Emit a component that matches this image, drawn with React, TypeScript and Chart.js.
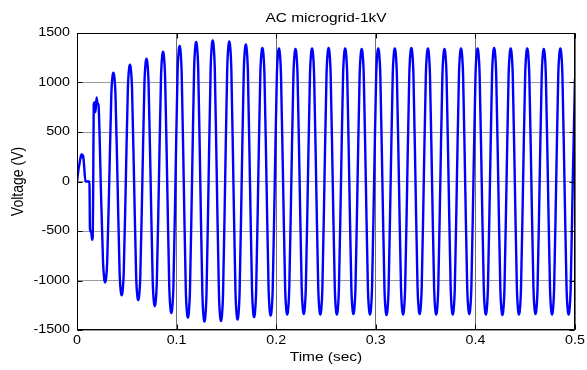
import React, { useEffect, useRef } from 'react';
import { Chart, registerables } from 'chart.js';

Chart.register(...registerables);

// ---- text ----
const TITLE = 'AC microgrid-1kV';
const X_LABEL = 'Time (sec)';
const Y_LABEL = 'Voltage (V)';

// ---- axes ----
const X_MIN = 0;
const X_MAX = 0.5;
const X_STEP = 0.1;
const Y_MIN = -1500;
const Y_MAX = 1500;
const Y_STEP = 500;

// ---- start-up transient ----
const EARLY_TIME = [0, 0.0012, 0.0025, 0.0038, 0.0048, 0.0056, 0.0062, 0.0072, 0.0085, 0.0125, 0.013, 0.0142, 0.0152, 0.0158, 0.0163, 0.0168, 0.0178, 0.0186, 0.0196, 0.0206, 0.0216, 0.0228, 0.0238];
const EARLY_VOLT = [0, 100, 180, 255, 275, 240, 265, 150, 0, 0, -480, -510, -590, -560, 0, 780, 800, 700, 850, 790, 770, 420, 0];

// ---- steady cycles: peak / trough per cycle ----
const FIRST_PEAK_TIME = 0.0033;
const CYCLE_PERIOD = 0.01662;
const PEAKS = [265, 840, 1100, 1180, 1240, 1310, 1370, 1410, 1425, 1415, 1385, 1350, 1345, 1340, 1345, 1350, 1345, 1340, 1345, 1345, 1350, 1345, 1340, 1345, 1345, 1350, 1345, 1345, 1340, 1345];
const TROUGHS = [-580, -1020, -1150, -1200, -1260, -1330, -1375, -1415, -1410, -1395, -1370, -1355, -1345, -1340, -1345, -1345, -1340, -1345, -1350, -1345, -1340, -1345, -1345, -1340, -1345, -1350, -1345, -1340, -1345, -1345];
// waveform shoulder around each extremum: offset (fraction of period) -> fraction of extremum
const SHAPE_OFFSET = [0.125, 0.05];
const SHAPE_LEVEL = [0.8, 0.97];
const END_TIME = 0.5;
const END_VOLT = 1040;

const FONT = '"Liberation Sans", Arial, Helvetica, sans-serif';
const STRETCH = 1.19;

function pushExtremum(pts: { x: number; y: number }[], t: number, v: number) {
  for (let i = 0; i < SHAPE_OFFSET.length; i++) pts.push({ x: t - SHAPE_OFFSET[i] * CYCLE_PERIOD, y: v * SHAPE_LEVEL[i] });
  pts.push({ x: t, y: v });
  for (let i = SHAPE_OFFSET.length - 1; i >= 0; i--) pts.push({ x: t + SHAPE_OFFSET[i] * CYCLE_PERIOD, y: v * SHAPE_LEVEL[i] });
}

function buildPoints() {
  const pts: { x: number; y: number }[] = [];
  for (let i = 0; i < EARLY_TIME.length; i++) pts.push({ x: EARLY_TIME[i], y: EARLY_VOLT[i] });
  for (let k = 1; k < PEAKS.length; k++) {
    const tp = FIRST_PEAK_TIME + k * CYCLE_PERIOD;
    if (k >= 2) {
      pushExtremum(pts, tp, PEAKS[k]);
      pts.push({ x: tp + CYCLE_PERIOD / 4, y: 0 });
    }
    pushExtremum(pts, tp + CYCLE_PERIOD / 2, TROUGHS[k]);
    pts.push({ x: tp + (3 * CYCLE_PERIOD) / 4, y: 0 });
  }
  pts.push({ x: END_TIME, y: END_VOLT });
  return pts;
}

function drawText(ctx: CanvasRenderingContext2D, text: string, x: number, y: number, align: CanvasTextAlign, size: number, rotate = false) {
  ctx.save();
  ctx.translate(x, y);
  if (rotate) {
    ctx.rotate(-Math.PI / 2);
    ctx.scale(1, STRETCH);
  } else {
    ctx.scale(STRETCH, 1);
  }
  ctx.font = `${size}px ${FONT}`;
  ctx.textAlign = align;
  ctx.textBaseline = 'middle';
  ctx.fillStyle = '#000';
  ctx.fillText(text, 0, 0);
  ctx.restore();
}

const frame = {
  id: 'matlabFrame',
  afterDraw(chart: any) {
    const { ctx, chartArea: ca } = chart;
    const xs = chart.scales.x;
    const ys = chart.scales.y;
    ctx.save();
    ctx.strokeStyle = '#000';
    ctx.lineWidth = 1;
    const L = Math.round(ca.left) + 0.5;
    const R = Math.round(ca.right) - 0.5;
    const T = Math.round(ca.top) + 0.5;
    const B = Math.round(ca.bottom) - 0.5;
    ctx.beginPath();
    ctx.rect(L, T, R - L, B - T);
    ctx.stroke();
    const tl = 5;
    ctx.beginPath();
    xs.ticks.forEach((t: any) => {
      const px = Math.round(xs.getPixelForValue(t.value)) + 0.5;
      ctx.moveTo(px, B); ctx.lineTo(px, B - tl);
      ctx.moveTo(px, T); ctx.lineTo(px, T + tl);
    });
    ys.ticks.forEach((t: any) => {
      const py = Math.round(ys.getPixelForValue(t.value)) + 0.5;
      ctx.moveTo(L, py); ctx.lineTo(L + tl, py);
      ctx.moveTo(R, py); ctx.lineTo(R - tl, py);
    });
    ctx.stroke();
    ctx.restore();

    xs.ticks.forEach((t: any) => {
      const v = t.value;
      const label = Math.abs(v) < 1e-9 ? '0' : String(Number(v.toFixed(1)));
      drawText(ctx, label, xs.getPixelForValue(v), ca.bottom + 11, 'center', 12);
    });
    ys.ticks.forEach((t: any) => {
      drawText(ctx, String(Math.round(t.value)), ca.left - 7, ys.getPixelForValue(t.value), 'right', 12);
    });
    const cx = (ca.left + ca.right) / 2;
    drawText(ctx, TITLE, cx, 18, 'center', 13);
    drawText(ctx, X_LABEL, cx, 357, 'center', 13);
    drawText(ctx, Y_LABEL, 18, (ca.top + ca.bottom) / 2, 'center', 14, true);
  },
};

export default function App() {
  const ref = useRef<HTMLCanvasElement | null>(null);
  useEffect(() => {
    if (!ref.current) return;
    const chart = new Chart(ref.current, {
      type: 'line',
      data: {
        datasets: [
          {
            data: buildPoints(),
            borderColor: '#0000ff',
            borderWidth: 2.4,
            pointRadius: 0,
            fill: false,
            cubicInterpolationMode: 'monotone',
          },
        ],
      },
      options: {
        animation: false,
        responsive: false,
        devicePixelRatio: 1,
        layout: { padding: { top: 33, right: 12, left: 0, bottom: 0 } },
        plugins: { legend: { display: false }, title: { display: false }, tooltip: { enabled: false } },
        scales: {
          x: {
            type: 'linear',
            min: X_MIN,
            max: X_MAX,
            ticks: { display: false, stepSize: X_STEP },
            grid: { color: '#6e6e6e', lineWidth: 1, drawTicks: false },
            border: { display: false },
            afterFit: (s: any) => { s.height = 40; },
          },
          y: {
            type: 'linear',
            min: Y_MIN,
            max: Y_MAX,
            ticks: { display: false, stepSize: Y_STEP },
            grid: { color: '#9a9a9a', lineWidth: 1, drawTicks: false },
            border: { display: false },
            afterFit: (s: any) => { s.width = 77; },
          },
        },
      },
      plugins: [frame],
    });
    return () => chart.destroy();
  }, []);
  return (
    <div style={{ position: 'fixed', left: 0, top: 0, width: 587, height: 370, background: '#fff' }}>
      <canvas ref={ref} width={587} height={370} style={{ width: 587, height: 370 }} />
    </div>
  );
}
